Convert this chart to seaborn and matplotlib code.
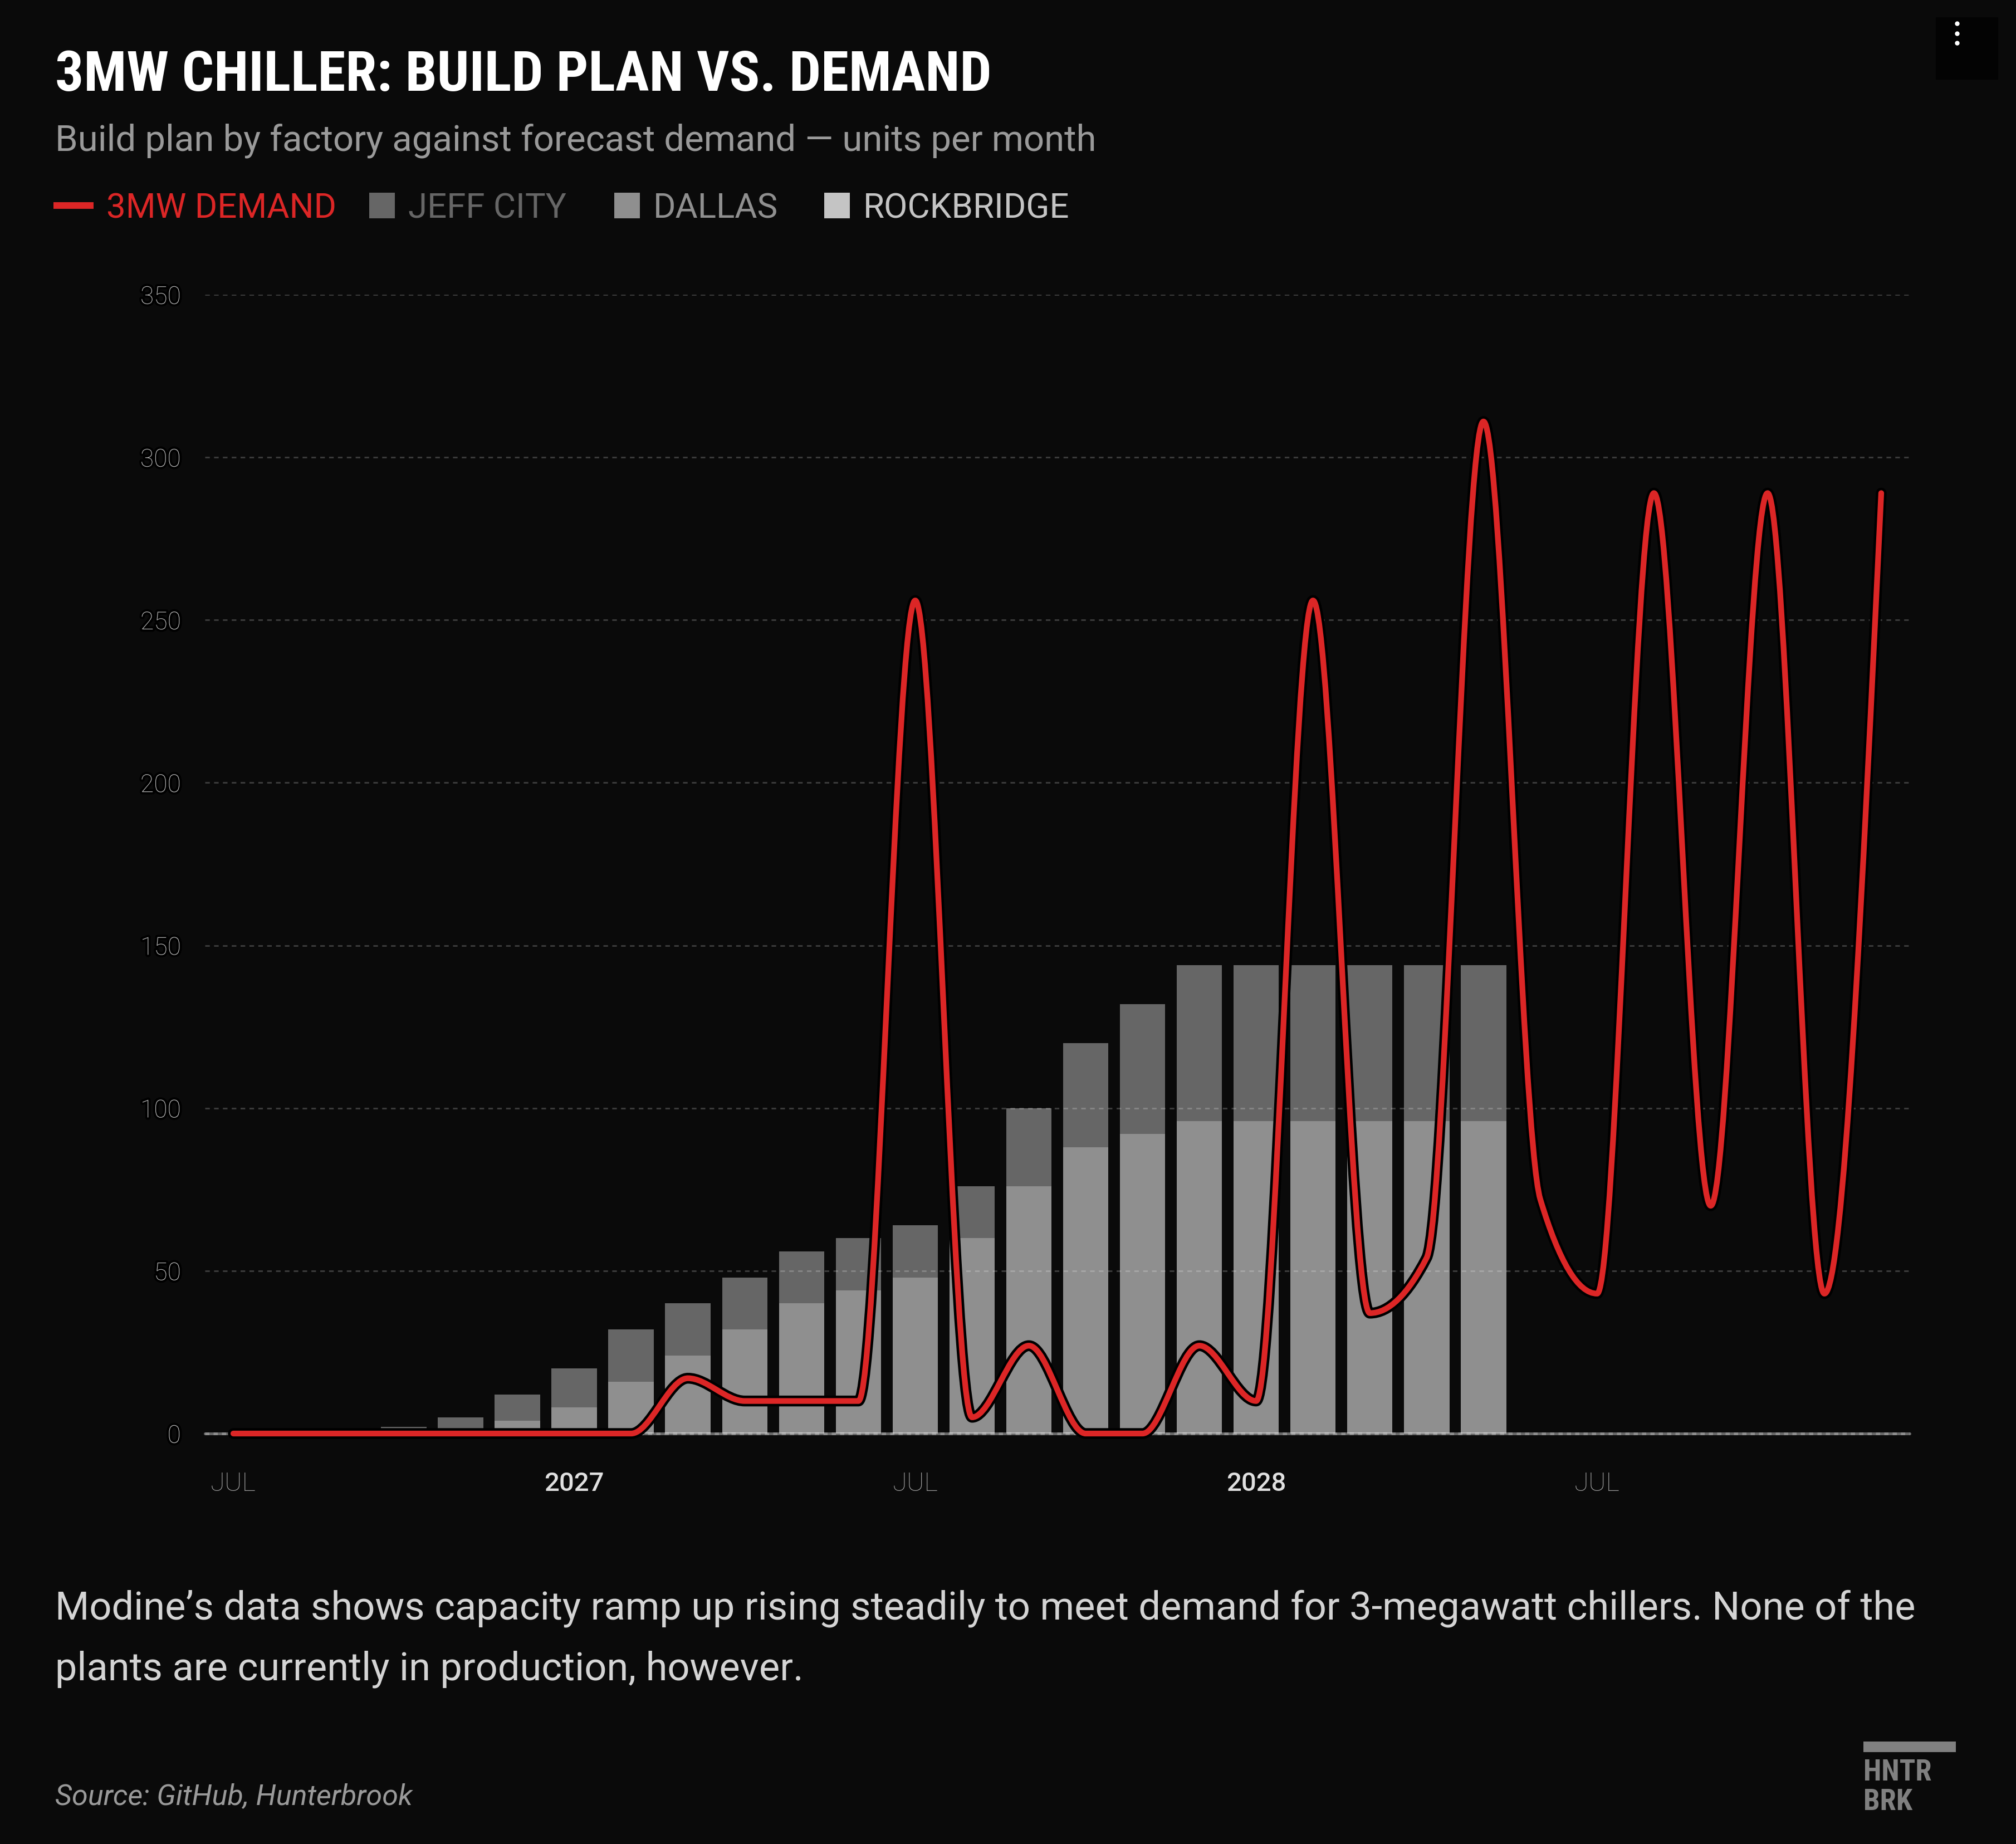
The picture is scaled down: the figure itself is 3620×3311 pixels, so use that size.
import numpy as np
import pandas as pd
import seaborn as sns
import matplotlib.pyplot as plt
from matplotlib.path import Path
from matplotlib.patches import PathPatch, Rectangle
import matplotlib.patheffects as pe
from matplotlib import font_manager as fm

# monthly data, Jul 2026 .. Dec 2028
months = pd.date_range('2026-07-01', '2028-12-01', freq='MS').strftime('%Y-%m').tolist()
demand = [0, 0, 0, 0, 0, 0, 0, 0, 17, 10, 10, 10, 256, 5, 27, 0, 0, 27, 10, 256,
          37, 54, 311, 72, 43, 289, 70, 289, 43, 289]
jeff_city = [0, 0, 0, 2, 5, 8, 12, 16, 16, 16, 16, 16, 16, 16, 24, 32, 40, 48, 48, 48,
             48, 48, 48, 0, 0, 0, 0, 0, 0, 0]
dallas = [0, 0, 0, 0, 0, 4, 8, 16, 24, 32, 40, 44, 48, 60, 76, 88, 92, 96, 96, 96,
          96, 96, 96, 0, 0, 0, 0, 0, 0, 0]
rockbridge = [0] * 30
x_ticks_major = [6, 18]
x_labels_major = ['2027', '2028']
x_ticks_minor = [0, 12, 24]
x_labels_minor = ['JUL', 'JUL', 'JUL']
y_ticks = [0, 50, 100, 150, 200, 250, 300, 350]

BG = '#0a0a0a'
RED = '#dc2626'
C_JEFF = '#666666'
C_DALLAS = '#8f8f8f'
C_ROCK = '#c4c4c4'

sns.set_style('dark', {'axes.facecolor': BG, 'figure.facecolor': BG})
names = {f.name for f in fm.fontManager.ttflist}
body = 'Roboto' if 'Roboto' in names else 'DejaVu Sans'
narrow = next((n for n in ['Roboto Condensed', 'Liberation Sans Narrow', 'Open Sans Condensed']
               if n in names), body)
plt.rcParams['font.family'] = [body, 'DejaVu Sans']


def monotone_path(xs, ys):
    # cubic bezier path like d3.curveMonotoneX
    xs = np.asarray(xs, float)
    ys = np.asarray(ys, float)
    h = np.diff(xs)
    s = np.diff(ys) / h
    t = np.zeros(len(xs))
    for i in range(1, len(xs) - 1):
        p = (s[i - 1] * h[i] + s[i] * h[i - 1]) / (h[i - 1] + h[i])
        t[i] = (np.sign(s[i - 1]) + np.sign(s[i])) * min(abs(s[i - 1]), abs(s[i]), 0.5 * abs(p))
    t[0] = (3 * s[0] - t[1]) / 2
    t[-1] = (3 * s[-1] - t[-2]) / 2
    verts = [(xs[0], ys[0])]
    codes = [Path.MOVETO]
    for i in range(len(xs) - 1):
        dx = h[i] / 3
        verts += [(xs[i] + dx, ys[i] + dx * t[i]),
                  (xs[i + 1] - dx, ys[i + 1] - dx * t[i + 1]),
                  (xs[i + 1], ys[i + 1])]
        codes += [Path.CURVE4] * 3
    return Path(verts, codes)


W, H = 3620, 3312
fig = plt.figure(figsize=(W / 100, H / 100), dpi=100, facecolor=BG)

ov = fig.add_axes([0, 0, 1, 1], zorder=0)
ov.set_xlim(0, W)
ov.set_ylim(H, 0)
ov.axis('off')
ov.patch.set_alpha(0)

ax = fig.add_axes([368 / W, 1 - 2575 / H, 3061 / W, 2045 / H], zorder=1)
ax.patch.set_alpha(0)

df = pd.DataFrame({'month': months,
                   'total': np.add(np.add(jeff_city, dallas), rockbridge),
                   'dallas_rock': np.add(dallas, rockbridge),
                   'rock': rockbridge})
for col, c in [('total', C_JEFF), ('dallas_rock', C_DALLAS), ('rock', C_ROCK)]:
    sns.barplot(data=df, x='month', y=col, color=c, saturation=1, width=0.8,
                linewidth=0, ax=ax, zorder=2)

ax.set_xlim(-0.5, len(months) - 0.5)
ax.set_ylim(0, 350)
ax.set_xlabel('')
ax.set_ylabel('')
for sp in ax.spines.values():
    sp.set_visible(False)
ax.grid(False)

for yv in y_ticks[1:]:
    ax.axhline(yv, color='white', alpha=0.2, lw=2.2, ls=(0, (2.7, 2.5)), zorder=3)
ax.axhline(0, color='white', alpha=0.38, lw=3.6, zorder=3, clip_on=False)
ax.axhline(0, color='white', alpha=0.25, lw=3.6, ls=(0, (1.5, 1.5)), zorder=3, clip_on=False)

line = PathPatch(monotone_path(range(len(months)), demand), fill=False, edgecolor=RED,
                 lw=7.4, capstyle='round', joinstyle='round', zorder=5, clip_on=False,
                 path_effects=[pe.Stroke(linewidth=14, foreground='#000000'), pe.Normal()])
ax.add_patch(line)

ax.set_yticks(y_ticks)
ax.set_yticklabels([str(v) for v in y_ticks])
ax.tick_params(axis='y', length=0, pad=31, labelsize=32, labelcolor='#bdbdbd')
for lab in ax.get_yticklabels():
    lab.set_fontweight('light')
    lab.set_path_effects([pe.withStroke(linewidth=6, foreground='#000000')])

ax.set_xticks(x_ticks_major, labels=x_labels_major)
ax.set_xticks(x_ticks_minor, labels=x_labels_minor, minor=True)
ax.tick_params(axis='x', which='major', length=15, width=2, color='#777777', pad=33,
               labelsize=34, labelcolor='#e0e0e0')
ax.tick_params(axis='x', which='minor', length=0, pad=48, labelsize=34, labelcolor='#9c9c9c')
for lab in ax.get_xticklabels():
    lab.set_fontweight('medium')
for lab in ax.get_xticklabels(minor=True):
    lab.set_fontweight('light')

# header
ov.text(99, 163, '3MW CHILLER: BUILD PLAN VS. DEMAND', family=[narrow, 'DejaVu Sans'],
        fontsize=73, fontweight='bold', color='white', va='baseline')
ov.text(99, 270, 'Build plan by factory against forecast demand \u2014 units per month',
        fontsize=47, color='#9a9a9a', va='baseline')

# legend
ov.plot([96, 168], [370, 370], color=RED, lw=8.6, solid_capstyle='butt')
ov.text(191, 392, '3MW DEMAND', fontsize=44.5, color=RED, va='baseline')
for x0, tx, label, c in [(663, 733, 'JEFF CITY', C_JEFF), (1103, 1173, 'DALLAS', C_DALLAS),
                         (1480, 1550, 'ROCKBRIDGE', C_ROCK)]:
    ov.add_patch(Rectangle((x0, 347), 46, 46, color=c, lw=0))
    ov.text(tx, 392, label, fontsize=44.5, color=c, va='baseline')

# footer
ov.text(99, 2908, 'Modine\u2019s data shows capacity ramp up rising steadily to meet demand '
        'for 3-megawatt chillers. None of the', fontsize=50.7, color='#d4d4d4', va='baseline')
ov.text(99, 3017, 'plants are currently in production, however.', fontsize=50.7,
        color='#d4d4d4', va='baseline')
ov.text(99, 3240, 'Source: GitHub, Hunterbrook', fontsize=37.5, style='italic',
        color='#9a9a9a', va='baseline')

# logo
ov.add_patch(Rectangle((3346, 3128), 166, 19, color='#808080', lw=0))
ov.text(3346, 3197, 'HNTR', family=[narrow, 'DejaVu Sans'], fontsize=38, fontweight='bold',
        color='#808080', va='baseline')
ov.text(3346, 3250, 'BRK', family=[narrow, 'DejaVu Sans'], fontsize=38, fontweight='bold',
        color='#808080', va='baseline')

# menu button
ov.add_patch(Rectangle((3476, 32), 112, 112, color='#030303', lw=0))
ov.scatter([3514] * 3, [43, 61, 78], s=36, color='white', lw=0)

fig.savefig('out.png', dpi=100, facecolor=BG)
